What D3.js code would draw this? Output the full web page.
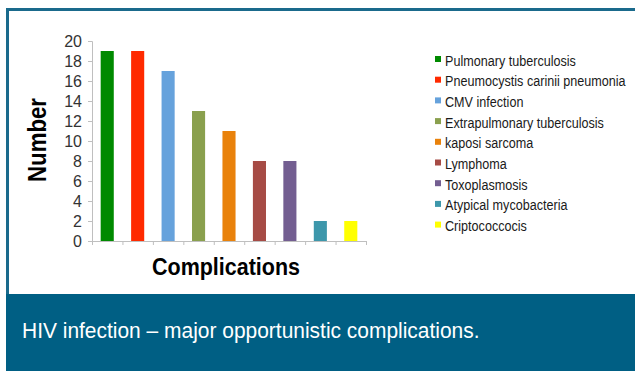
<!DOCTYPE html>
<html>
<head>
<meta charset="utf-8">
<script src="https://cdn.jsdelivr.net/npm/d3@7"></script>
<style>
  html, body { margin: 0; padding: 0; background: #fff; }
  svg { display: block; }
  text { font-family: "Liberation Sans", Arial, Helvetica, sans-serif; }
</style>
</head>
<body>
<svg id="chart" width="635" height="371"></svg>
<script>
// Opportunistic complications and their case counts
const categories = [
  "Pulmonary tuberculosis",
  "Pneumocystis carinii pneumonia",
  "CMV infection",
  "Extrapulmonary tuberculosis",
  "kaposi sarcoma",
  "Lymphoma",
  "Toxoplasmosis",
  "Atypical mycobacteria",
  "Criptococcocis"
];
const counts = [19, 19, 17, 13, 11, 8, 8, 2, 2];
const colors = ["#008a00", "#ff2a00", "#66a2dc", "#8aa04e", "#e9820b", "#a64b45", "#735e91", "#3d97ab", "#ffff00"];
const yTicks = [0, 2, 4, 6, 8, 10, 12, 14, 16, 18, 20];
const caption = "HIV infection \u2013 major opportunistic complications.";

const svg = d3.select("#chart");
const frameColor = "#1a6a8c";
const panelColor = "#005f84";

// Outer frame
svg.append("rect").attr("x", 7.5).attr("y", 9.5).attr("width", 640).attr("height", 300)
  .attr("fill", "#fff").attr("stroke", frameColor).attr("stroke-width", 3);

// Caption panel
svg.append("rect").attr("x", 6).attr("y", 294).attr("width", 629).attr("height", 77)
  .attr("fill", panelColor);
const capG = svg.append("g").attr("transform", "translate(22,338)");
const cap = capG.append("text").attr("fill", "#fff").attr("font-size", 22).text(caption);
capG.attr("transform", `translate(22,338) scale(${458 / cap.node().getComputedTextLength()},1)`);

// Plot area
const plot = { left: 92, right: 366, top: 41, bottom: 241 };

const x = d3.scaleBand().domain(categories).range([plot.left, plot.right])
  .paddingInner(0.57).paddingOuter(0.285);
const y = d3.scaleLinear().domain([0, 20]).range([plot.bottom, plot.top]);

const g = svg.append("g");

// Bars
g.selectAll("rect.bar").data(categories).join("rect")
  .attr("class", "bar")
  .attr("x", d => x(d))
  .attr("width", x.bandwidth())
  .attr("y", (d, i) => y(counts[i]))
  .attr("height", (d, i) => y(0) - y(counts[i]))
  .attr("fill", (d, i) => colors[i]);

// Y axis
const yAxis = g.append("g").attr("transform", `translate(${plot.left},0)`)
  .call(d3.axisLeft(y).tickValues(yTicks).tickSize(4).tickPadding(6));
yAxis.select(".domain").attr("stroke", "#bfbfbf");
yAxis.selectAll(".tick line").attr("stroke", "#bfbfbf");
yAxis.selectAll(".tick text").attr("font-size", 16).attr("fill", "#333")
  .attr("font-family", "'Liberation Sans', Arial, sans-serif");

// X axis: category boundaries as tick marks
const xBounds = d3.scaleLinear().domain([0, categories.length]).range([plot.left, plot.right]);
const xAxis = g.append("g").attr("transform", `translate(0,${plot.bottom})`)
  .call(d3.axisBottom(xBounds).tickValues(d3.range(categories.length + 1)).tickSize(4).tickSizeOuter(0).tickFormat(""));
xAxis.select(".domain").attr("stroke", "#bfbfbf");
xAxis.selectAll(".tick line").attr("stroke", "#bfbfbf");

// Axis titles
const yTitleG = svg.append("g");
const yTitle = yTitleG.append("text")
  .attr("text-anchor", "middle").attr("font-weight", "bold").attr("font-size", 26)
  .attr("fill", "#000").text("Number");
yTitleG.attr("transform", `translate(46,140) rotate(-90) scale(${84 / yTitle.node().getComputedTextLength()},1)`);

const xTitleG = svg.append("g");
const xTitle = xTitleG.append("text")
  .attr("text-anchor", "middle").attr("font-weight", "bold").attr("font-size", 24)
  .attr("fill", "#000").text("Complications");
xTitleG.attr("transform", `translate(226,275) scale(${148 / xTitle.node().getComputedTextLength()},1)`);

// Legend
const legend = svg.append("g").attr("transform", "translate(435,60)");
const row = legend.selectAll("g").data(categories).join("g")
  .attr("transform", (d, i) => `translate(0,${i * 20.7})`);
row.append("rect").attr("x", 0).attr("y", -4).attr("width", 6).attr("height", 6)
  .attr("fill", (d, i) => colors[i]);
const labelG = row.append("g");
const labels = labelG.append("text").attr("font-size", 15).attr("fill", "#1a1a1a").text(d => d);
const sx = 131 / labels.nodes()[0].getComputedTextLength();
labelG.attr("transform", `translate(10,5.5) scale(${sx},1)`);
</script>
</body>
</html>
